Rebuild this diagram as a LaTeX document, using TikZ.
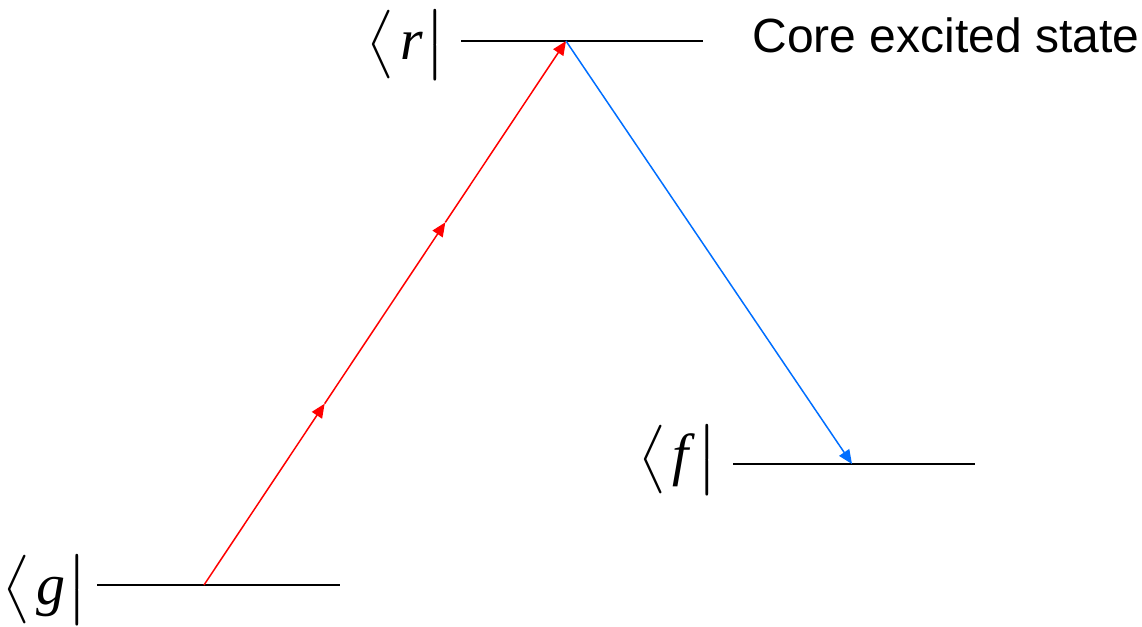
\documentclass[tikz,border=0pt]{standalone}
\usepackage{amsmath}
\usepackage{graphicx}
\usepackage{fontspec}
\setsansfont{Liberation Sans}
\newfontfamily\letterfont{Liberation Serif}
\usetikzlibrary{calc}
\usetikzlibrary{arrows.meta}

\definecolor{emitblue}{RGB}{0,110,255}
\newcommand{\brastate}[1]{\scalebox{1.2}[1.15]{$\bigl\langle$}\hspace{0.1em}{\letterfont\itshape #1\/}\hspace{0.02em}\scalebox{1.3}[1.15]{$\bigr|$}}

\begin{document}
\begin{tikzpicture}[x=0.5pt, y=-0.5pt,
    level/.style={line width=1pt, black},
    uparrow/.style={line width=0.75pt, red, -{Triangle[length=7pt,width=6pt]}},
    downarrow/.style={line width=0.75pt, emitblue, -{Triangle[length=7pt,width=6pt]}},
    bra/.style={inner sep=0pt, font=\fontsize{29}{34}\selectfont}]

    \useasboundingbox (0,0) rectangle (1142,627);

    \coordinate (G1) at (97, 585);
    \coordinate (G2) at (340, 585);
    \coordinate (R1) at (461, 41);
    \coordinate (R2) at (703, 41);
    \coordinate (F1) at (733, 464);
    \coordinate (F2) at (975, 464);

    \coordinate (GA) at (204, 585);
    \coordinate (RA) at (566, 41);
    \coordinate (FA) at (852, 464);
    \coordinate (M1) at ($(GA)!1/3!(RA)$);
    \coordinate (M2) at ($(GA)!2/3!(RA)$);

    \draw[level] (G1) -- (G2);
    \draw[level] (R1) -- (R2);
    \draw[level] (F1) -- (F2);

    \node[bra] (gbra) at (45, 590) {\brastate{g}};
    \node[bra] (rbra) at (406, 45) {\brastate{r}};
    \node[bra] (fbra) at (678, 460) {\brastate{f}};
    \node[anchor=base west, inner sep=0pt, font=\sffamily\fontsize{24}{28}\selectfont] (core) at (752, 52) {Core excited state};

    \draw[uparrow] (GA) -- (M1);
    \draw[uparrow] (M1) -- (M2);
    \draw[uparrow] (M2) -- (RA);
    \draw[downarrow] (RA) -- (FA);

\end{tikzpicture}
\end{document}
